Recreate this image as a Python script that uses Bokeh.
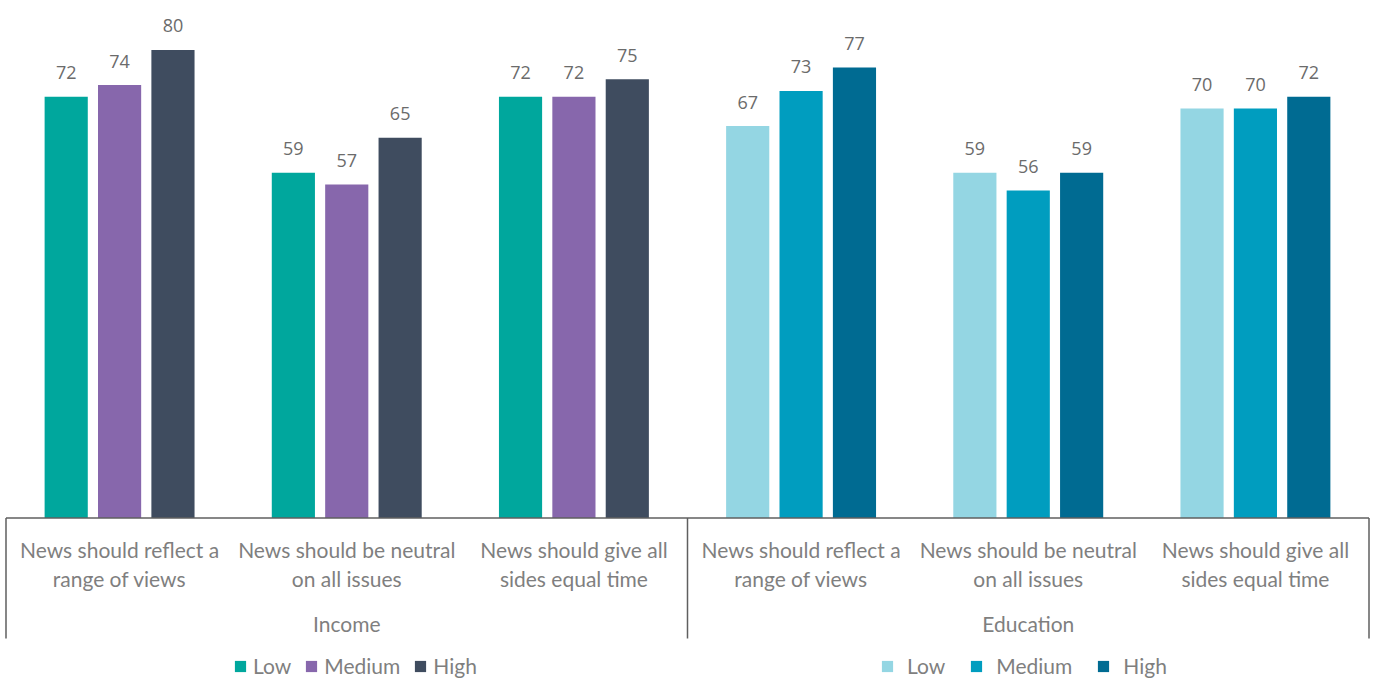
from bokeh.plotting import figure
from bokeh.models import FactorRange, Range1d, ColumnDataSource, Legend, LegendItem
from bokeh.transform import dodge
from bokeh.core.properties import value
from bokeh.embed import file_html
from bokeh.resources import INLINE

# ---- data ----
categories = [
    "News should reflect a\nrange of views",
    "News should be neutral\non all issues",
    "News should give all\nsides equal time",
]
groups = ["Income", "Education"]
levels = ["Low", "Medium", "High"]

income_low = [72, 59, 72]
income_medium = [74, 57, 72]
income_high = [80, 65, 75]

education_low = [67, 59, 70]
education_medium = [73, 56, 70]
education_high = [77, 59, 72]

income_colors = ["#00A79D", "#8767AC", "#3F4C5F"]
education_colors = ["#94D6E3", "#009DBF", "#006B92"]

series = {
    "Income": [income_low, income_medium, income_high],
    "Education": [education_low, education_medium, education_high],
}
palette = {"Income": income_colors, "Education": education_colors}

factors = [(g, c) for g in groups for c in categories]

p = figure(
    width=1374, height=678,
    x_range=FactorRange(*factors, factor_padding=0, group_padding=0,
                        range_padding=0.0242, range_padding_units="absolute"),
    y_range=Range1d(-27.44, 88.46),
    output_backend="svg", toolbar_location=None,
    x_axis_location=None, y_axis_location=None,
    min_border_left=0, min_border_right=0, min_border_top=0, min_border_bottom=0,
    outline_line_color=None, background_fill_color="white",
)
p.grid.visible = False

offsets = [-0.235, 0.0, 0.235]
bar_w = 0.19
renderers = {}
for g in groups:
    renderers[g] = []
    for i, lvl in enumerate(levels):
        vals = series[g][i]
        src = ColumnDataSource(dict(
            x=[(g, c) for c in categories],
            top=vals,
            label=[str(v) for v in vals],
        ))
        r = p.vbar(x=dodge("x", offsets[i], range=p.x_range), top="top", bottom=0,
                   width=bar_w, source=src, fill_color=palette[g][i], line_color=None)
        renderers[g].append(r)
        p.text(x=dodge("x", offsets[i], range=p.x_range), y="top", text="label", source=src,
               text_align="center", text_baseline="middle", y_offset=-24,
               text_font=value("Open Sans"), text_font_size="18px", text_color="#6b6b6b")

# axis baseline
p.segment(x0=[0], y0=[0], x1=[6], y1=[0], line_color="#5f5f5f", line_width=1.5)
# separators
sep_x = [0, 3, 6]
p.segment(x0=sep_x, y0=[0] * 3, x1=sep_x, y1=[-20.6] * 3, line_color="#5f5f5f", line_width=1.5)

# category labels
line1 = [c.split("\n")[0] for g in groups for c in categories]
line2 = [c.split("\n")[1] for g in groups for c in categories]
lsrc = ColumnDataSource(dict(x=factors, l1=line1, l2=line2, y=[0] * len(factors)))
for col, off in (("l1", 32), ("l2", 61)):
    p.text(x="x", y="y", text=col, source=lsrc, y_offset=off,
           text_align="center", text_baseline="middle",
           text_font=value("Lato"), text_font_size="21px", text_color="#7f7f7f")

gsrc = ColumnDataSource(dict(x=[(g, categories[1]) for g in groups], t=groups, y=[0, 0]))
p.text(x="x", y="y", text="t", source=gsrc, y_offset=106,
       text_align="center", text_baseline="middle",
       text_font=value("Lato"), text_font_size="21px", text_color="#7f7f7f")

# legends
def make_legend(g, loc, spacing, standoff):
    lg = Legend(
        items=[LegendItem(label=lvl, renderers=[renderers[g][i]]) for i, lvl in enumerate(levels)],
        orientation="horizontal", location=loc, padding=0, margin=0,
        spacing=spacing, label_standoff=standoff, glyph_width=14, glyph_height=14,
        label_text_font="Lato", label_text_font_size="21px", label_text_color="#7f7f7f",
        border_line_color=None, background_fill_alpha=0,
    )
    p.add_layout(lg, "center")

make_legend("Income", (233, 0), 13, 6)
make_legend("Education", (880, 0), 24, 13)

open("out.html", "w").write(file_html(p, INLINE))
